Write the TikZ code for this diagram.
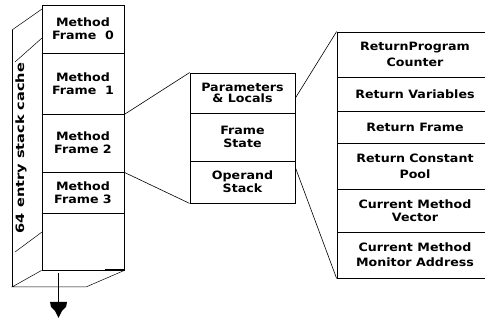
\documentclass[tikz,border=0pt]{standalone}
\usepackage{fontspec}
\usepackage{graphicx}
\setmainfont{DejaVu Sans}[FakeStretch=1.1]
\begin{document}
\begin{tikzpicture}[x=1pt,y=-1pt,
  cell/.style={draw,line width=0.8pt,inner sep=0pt,align=center,
    font=\bfseries\fontsize{11.5}{13}\selectfont},
  lcell/.style={cell,minimum width=82pt},
  mcell/.style={cell,minimum width=105pt},
  rcell/.style={cell,minimum width=156pt},
  conn/.style={line width=0.6pt},
  side/.style={line width=0.5pt}]
\useasboundingbox (0,0) rectangle (485,320);
\clip (0,0) rectangle (485,320);
% left stack
\node[lcell,minimum height=48pt] (f0) at (83,29) {Method\\Frame\ \ 0};
\node[lcell,minimum height=61pt] (f1) at (83,83.5) {Method\\Frame\ \ 1};
\node[lcell,minimum height=58pt] (f2) at (83,143) {Method\\Frame 2};
\node[lcell,minimum height=41pt] (f3) at (83,192.5) {Method\\Frame 3};
\node[lcell,minimum height=57pt] (f4) at (83,241.5) {};
% side face
\coordinate (bt) at (12,30);
\coordinate (bb) at (12,287);
\coordinate (br) at (86,287);
\draw[line width=0.8pt] (bt) -- (bb);
\draw[side] (42,9) -- (bt);
\draw[side] (42,38) -- (15,62);
\draw[side] (42,232) -- (15,252);
\draw[side] (f4.south west) -- (bb) -- (br) -- (f4.south east);
\draw[line width=2pt] (105,270) -- (124,270);
\node[rotate=90,font=\bfseries\fontsize{11.5}{13}\selectfont] (lab) at (21,148)
  {\scalebox{1.15}[1]{64 entry stack cache}};
% arrow
\coordinate (as) at (58.5,273);
\coordinate (ae) at (58.5,303);
\draw[line width=0.8pt] (as) -- (ae);
\fill (50,302) -- (67,302) -- (66,307) -- (62,311) -- (58.5,318) -- (55,311) -- (51,307) -- cycle;
% middle box
\node[mcell,minimum height=40pt] (ps) at (242.5,93) {Parameters\\[-1.5pt]\& Locals};
\node[mcell,minimum height=48pt] (fs) at (242.5,137) {Frame\\State};
\node[mcell,minimum height=42pt] (os) at (242.5,182) {Operand\\Stack};
% right box
\node[rcell,minimum height=45pt] (r1) at (415,54.5) {ReturnProgram\\[3pt]Counter};
\node[rcell,minimum height=34pt] (r2) at (415,94) {Return Variables};
\node[rcell,minimum height=32pt] (r3) at (415,127) {Return Frame};
\node[rcell,minimum height=46pt] (r4) at (415,166) {Return Constant\\[3pt]Pool};
\node[rcell,minimum height=43pt] (r5) at (415,210.5) {Current Method\\Vector};
\node[rcell,minimum height=46pt] (r6) at (415,255) {Current Method\\[2pt]Monitor Address};
% connectors
\draw[conn] (f1.south east) -- (ps.north west);
\draw[conn] (f2.south east) -- (os.south west);
\draw[conn] ([yshift=-5pt]ps.east) -- (r1.north west);
\draw[conn] ([yshift=-7pt]os.north east) -- (r6.south west);
\end{tikzpicture}
\end{document}
